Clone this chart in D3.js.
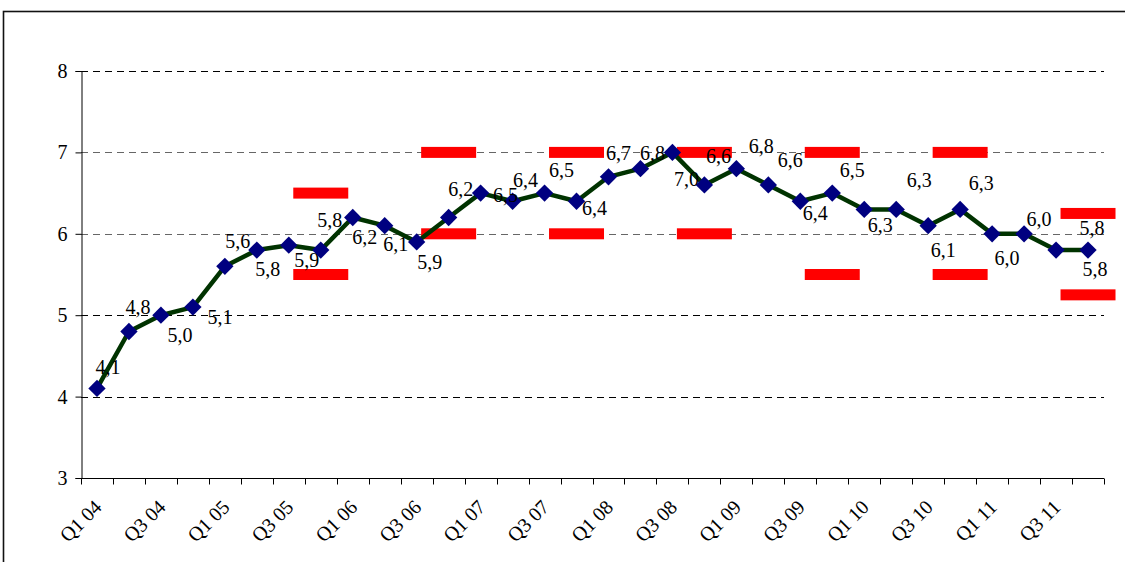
<!DOCTYPE html>
<html>
<head>
<meta charset="utf-8">
<script src="https://cdn.jsdelivr.net/npm/d3@7"></script>
<style>
body{margin:0;background:#fff;}
text{font-family:"Liberation Serif","Times New Roman",serif;fill:#000;}
</style>
</head>
<body>
<div id="chart"></div>
<script>
// quarterly series, Q1 04 .. Q4 11
var quarters=["Q1 04","Q2 04","Q3 04","Q4 04","Q1 05","Q2 05","Q3 05","Q4 05",
"Q1 06","Q2 06","Q3 06","Q4 06","Q1 07","Q2 07","Q3 07","Q4 07",
"Q1 08","Q2 08","Q3 08","Q4 08","Q1 09","Q2 09","Q3 09","Q4 09",
"Q1 10","Q2 10","Q3 10","Q4 10","Q1 11","Q2 11","Q3 11","Q4 11"];
var values=[4.1,4.8,5.0,5.1,5.6,5.8,5.86,5.8,6.2,6.1,5.9,6.2,6.5,6.4,6.5,6.4,
6.7,6.8,7.0,6.6,6.8,6.6,6.4,6.5,6.3,6.3,6.1,6.3,6.0,6.0,5.8,5.8];
// target range markers (red dashes)
var targetQuarters=["Q4 05","Q4 06","Q4 07","Q4 08","Q4 09","Q4 10","Q4 11"];
var targetHigh=[6.5,7,7,7,7,7,6.25];
var targetLow=[5.5,6,6,6,5.5,5.5,5.25];
var yTicks=[3,4,5,6,7,8];
var xTickLabels=quarters.filter(function(d,i){return i%2==0;});

// where each value label sits relative to its marker
var labelOffset=[[11,-21],[9,-24],[19,20],[27,10],[13,-25],[11,19],[18,15],[9,-30],
[12,19],[11,18],[13,20],[12,-29],[25,2],[13,-21],[17,-23],[18,7],
[10,-24],[12,-16],[14,27],[14,-29],[25,-23],[22,-25],[15,12],[20,-23],
[16,16],[23,-29],[15,24],[21,-26],[15,24],[15,-15],[36,-22],[7,19]];

var W=1125,H=562;
var margin={top:71,right:21,bottom:84,left:81},
w=W-margin.left-margin.right,
h=H-margin.top-margin.bottom;

var loc=d3.formatLocale({decimal:",",thousands:".",grouping:[3],currency:["","€"]});
var fmt=loc.format(".1f");

var svg=d3.select("#chart").append("svg")
.attr("width",W).attr("height",H);
svg.append("rect").attr("width",W).attr("height",H).attr("fill","#fff");
// chart frame (cropped on the right/bottom)
svg.append("rect").attr("x",3.5).attr("y",11.5).attr("width",1300).attr("height",700)
.attr("fill","none").attr("stroke","#111").attr("stroke-width",1.6);

var g=svg.append("g").attr("transform",`translate(${margin.left},${margin.top})`);

var xScale=d3.scaleBand().domain(quarters).range([0,w]);
var yScale=d3.scaleLinear().domain([3,8]).range([h,0]);
var cx=function(q){return xScale(q)+xScale.bandwidth()/2;};

// dashed gridlines
g.selectAll(".grid").data(yTicks.filter(function(d){return d>3;})).enter()
.append("line")
.attr("x1",0).attr("x2",w)
.attr("y1",function(d){return Math.round(yScale(d))+0.5;})
.attr("y2",function(d){return Math.round(yScale(d))+0.5;})
.attr("stroke",function(d){return (d==6||d==7)?"#666":"#000";})
.attr("stroke-width",1).attr("stroke-dasharray","7,5");

// y axis
var yAxis=g.append("g").attr("transform","translate(0.5,0)")
.call(d3.axisLeft(yScale).tickValues(yTicks).tickSize(6).tickPadding(8).tickFormat(d3.format("d")));
yAxis.selectAll("text").style("font-size","20px");
yAxis.select(".domain").attr("stroke","#000");

// x axis: ticks on category boundaries, labels every second quarter
var xAxis=g.append("g").attr("transform","translate(0,"+(Math.round(h)+0.5)+")");
xAxis.append("line").attr("x1",0).attr("x2",w).attr("stroke","#000");
var bounds=quarters.map(function(q){return xScale(q);}).concat([w]);
xAxis.selectAll(".tk").data(bounds).enter().append("line")
.attr("x1",function(d){return Math.round(d)+0.5;}).attr("x2",function(d){return Math.round(d)+0.5;})
.attr("y1",0).attr("y2",6).attr("stroke","#000");
xAxis.selectAll(".lbl").data(xTickLabels).enter().append("text")
.attr("transform",function(d){return "translate("+(cx(d)-4)+",20)rotate(-45)";})
.attr("text-anchor","end").attr("dy","0.7em")
.style("font-size","20px")
.text(function(d){return d;});

// target dashes
var dashW=xScale.bandwidth()*1.72;
var targets=[];
targetQuarters.forEach(function(q,i){
targets.push({q:q,v:targetHigh[i]});
targets.push({q:q,v:targetLow[i]});
});
g.selectAll(".target").data(targets).enter().append("rect")
.attr("x",function(d){return cx(d.q)-dashW/2;})
.attr("y",function(d){return yScale(d.v)-5.5;})
.attr("width",dashW).attr("height",11)
.attr("fill","#ff0000");

// line
var line=d3.line()
.x(function(d,i){return cx(quarters[i]);})
.y(function(d){return yScale(d);});
g.append("path").datum(values)
.attr("d",line).attr("fill","none")
.attr("stroke","#003300").attr("stroke-width",4.5).attr("stroke-linejoin","round");

// diamond markers
g.selectAll(".pt").data(values).enter().append("path")
.attr("d",d3.symbol().type(d3.symbolSquare).size(150))
.attr("transform",function(d,i){return "translate("+cx(quarters[i])+","+yScale(d)+")rotate(45)";})
.attr("fill","#000080");

// value labels
g.selectAll(".val").data(values).enter().append("text")
.attr("x",function(d,i){return cx(quarters[i])+labelOffset[i][0];})
.attr("y",function(d,i){return yScale(d)+labelOffset[i][1];})
.attr("text-anchor","middle").attr("dy","0.35em")
.style("font-size","20px")
.text(function(d){return fmt(d);});
</script>
</body>
</html>
